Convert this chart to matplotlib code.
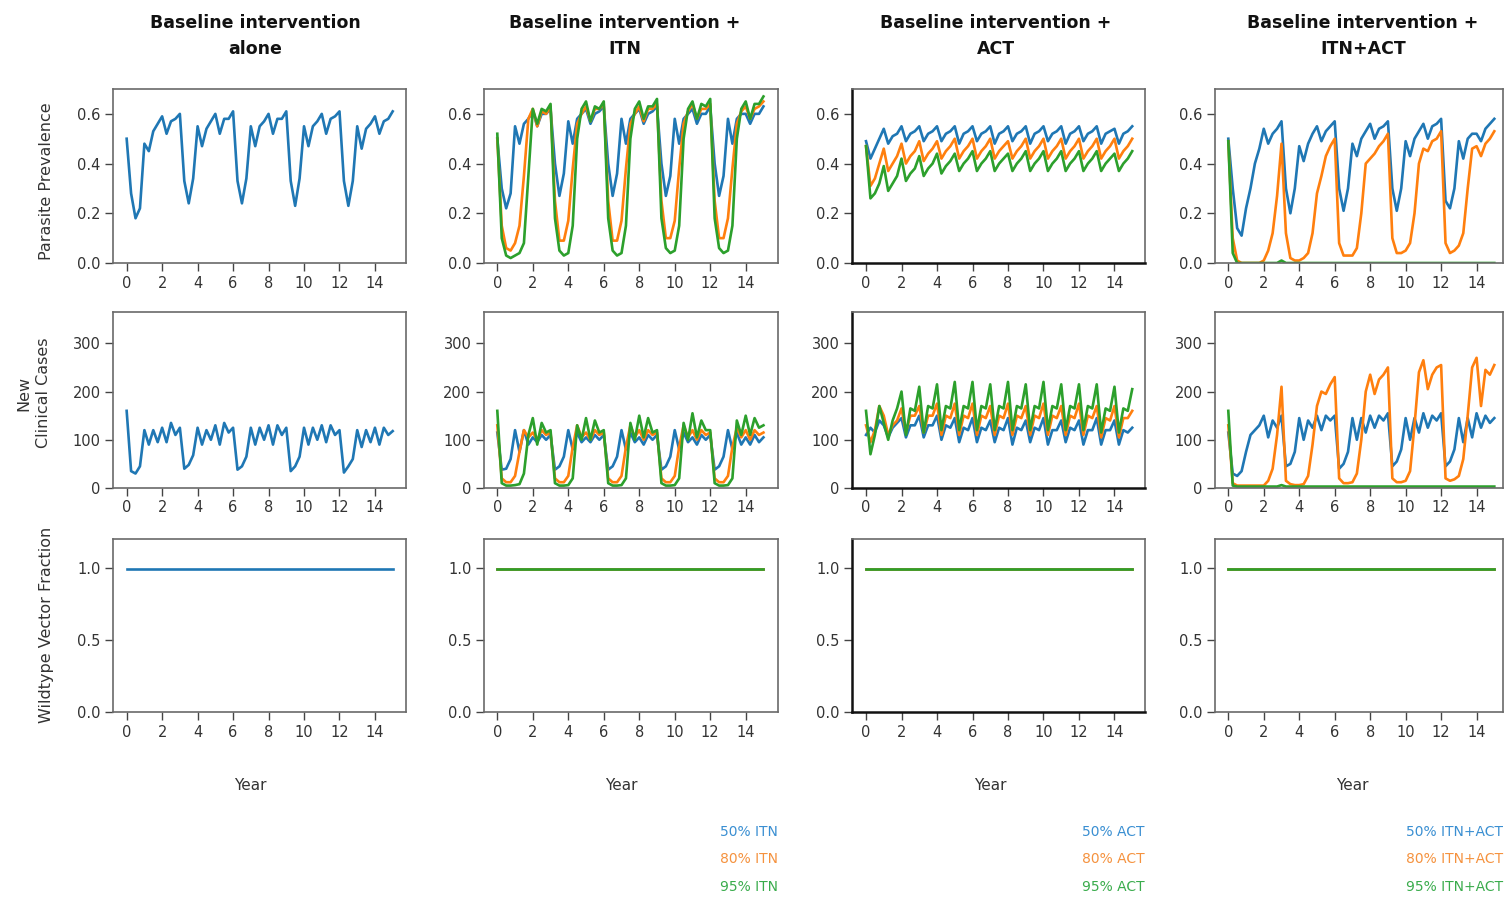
import numpy as np
import matplotlib
matplotlib.use("Agg")
import matplotlib.pyplot as plt

# ---------------- data (quarter-year steps) ----------------
years = np.arange(0, 15.01, 0.25)          # 61 time points, 0 .. 15 years
wild_years = [0, 15]

col_titles = ["Baseline intervention\nalone", "Baseline intervention +\nITN",
              "Baseline intervention +\nACT", "Baseline intervention +\nITN+ACT"]
row_labels = ["Parasite Prevalence", "New\nClinical Cases", "Wildtype Vector Fraction"]
itn_labels = ["50% ITN", "80% ITN", "95% ITN"]
act_labels = ["50% ACT", "80% ACT", "95% ACT"]
both_labels = ["50% ITN+ACT", "80% ITN+ACT", "95% ITN+ACT"]
x_ticks = [0, 2, 4, 6, 8, 10, 12, 14]

# --- column 1: baseline alone
prev_base = [0.50, 0.28, 0.18, 0.22, 0.48, 0.45, 0.53, 0.56, 0.59, 0.52, 0.57, 0.58,
             0.60, 0.33, 0.24, 0.34, 0.55, 0.47, 0.54, 0.57, 0.60, 0.52, 0.58, 0.58,
             0.61, 0.33, 0.24, 0.34, 0.55, 0.47, 0.55, 0.57, 0.60, 0.52, 0.58, 0.58,
             0.61, 0.33, 0.23, 0.34, 0.55, 0.47, 0.55, 0.57, 0.60, 0.52, 0.58, 0.59,
             0.61, 0.33, 0.23, 0.33, 0.55, 0.46, 0.54, 0.56, 0.59, 0.52, 0.57, 0.58,
             0.61]
cases_base = [160, 35, 30, 45, 120, 90, 120, 95, 125, 95, 135, 110,
              125, 40, 48, 68, 125, 90, 120, 100, 130, 90, 135, 115,
              125, 38, 45, 65, 125, 90, 125, 100, 130, 90, 130, 110,
              125, 35, 45, 65, 125, 90, 125, 100, 130, 95, 130, 110,
              120, 32, 45, 60, 120, 85, 120, 95, 125, 90, 125, 110,
              118]
wild_base = [0.99, 0.99]

# --- column 2: + ITN (50 %, 80 %, 95 %)
prev_itn50 = [0.50, 0.30, 0.22, 0.28, 0.55, 0.48, 0.56, 0.58, 0.61, 0.55, 0.60, 0.60,
              0.62, 0.40, 0.27, 0.36, 0.57, 0.48, 0.58, 0.60, 0.62, 0.56, 0.60, 0.61,
              0.63, 0.40, 0.27, 0.36, 0.58, 0.48, 0.58, 0.60, 0.62, 0.56, 0.60, 0.61,
              0.63, 0.40, 0.27, 0.35, 0.58, 0.48, 0.58, 0.60, 0.62, 0.56, 0.60, 0.60,
              0.63, 0.40, 0.27, 0.35, 0.58, 0.48, 0.58, 0.60, 0.60, 0.56, 0.60, 0.60,
              0.63]
prev_itn80 = [0.50, 0.15, 0.06, 0.05, 0.08, 0.15, 0.35, 0.58, 0.62, 0.55, 0.61, 0.60,
              0.63, 0.25, 0.09, 0.09, 0.17, 0.38, 0.56, 0.60, 0.63, 0.57, 0.62, 0.62,
              0.64, 0.25, 0.09, 0.09, 0.17, 0.38, 0.56, 0.60, 0.63, 0.57, 0.62, 0.62,
              0.64, 0.25, 0.10, 0.10, 0.17, 0.38, 0.56, 0.61, 0.64, 0.58, 0.62, 0.62,
              0.64, 0.25, 0.10, 0.10, 0.18, 0.38, 0.56, 0.61, 0.63, 0.58, 0.62, 0.63,
              0.65]
prev_itn95 = [0.52, 0.10, 0.03, 0.02, 0.03, 0.04, 0.08, 0.35, 0.62, 0.56, 0.62, 0.61,
              0.64, 0.18, 0.05, 0.03, 0.04, 0.15, 0.50, 0.62, 0.65, 0.57, 0.63, 0.62,
              0.65, 0.18, 0.05, 0.03, 0.04, 0.15, 0.50, 0.62, 0.65, 0.58, 0.63, 0.63,
              0.66, 0.18, 0.06, 0.04, 0.05, 0.15, 0.50, 0.62, 0.65, 0.58, 0.64, 0.63,
              0.66, 0.18, 0.06, 0.04, 0.05, 0.15, 0.50, 0.62, 0.65, 0.58, 0.64, 0.64,
              0.67]
cases_itn50 = [115, 38, 40, 60, 120, 75, 120, 90, 105, 95, 110, 100,
               110, 38, 45, 65, 120, 80, 115, 95, 105, 95, 110, 100,
               110, 38, 45, 65, 120, 80, 115, 95, 105, 90, 110, 100,
               110, 38, 45, 65, 120, 80, 115, 95, 105, 90, 110, 100,
               110, 38, 45, 65, 120, 80, 115, 90, 105, 90, 110, 95,
               105]
cases_itn80 = [130, 20, 12, 12, 25, 75, 120, 105, 115, 100, 120, 110,
               115, 20, 12, 12, 25, 85, 130, 105, 115, 100, 120, 110,
               115, 20, 12, 12, 25, 85, 130, 105, 120, 100, 120, 110,
               115, 20, 12, 12, 25, 85, 130, 105, 120, 100, 120, 110,
               115, 20, 12, 12, 25, 85, 125, 105, 120, 100, 120, 110,
               115]
cases_itn95 = [160, 10, 5, 5, 6, 8, 30, 110, 145, 90, 135, 115,
               120, 10, 5, 5, 6, 20, 130, 100, 145, 100, 140, 115,
               120, 10, 5, 5, 6, 20, 135, 100, 150, 105, 145, 115,
               120, 10, 5, 5, 6, 20, 135, 100, 155, 105, 140, 120,
               120, 10, 5, 5, 6, 20, 140, 110, 150, 110, 145, 125,
               130]
wild_itn50 = [0.99, 0.99]
wild_itn80 = [0.99, 0.99]
wild_itn95 = [0.99, 0.99]

# --- column 3: + ACT (annual saw-tooth)
prev_act50 = [0.49, 0.42, 0.46, 0.50, 0.54, 0.48, 0.51, 0.52, 0.55, 0.49, 0.52, 0.53,
              0.55, 0.49, 0.52, 0.53, 0.55, 0.49, 0.52, 0.53, 0.55, 0.48, 0.52, 0.53,
              0.55, 0.49, 0.52, 0.53, 0.55, 0.48, 0.52, 0.53, 0.55, 0.49, 0.52, 0.53,
              0.55, 0.48, 0.52, 0.53, 0.55, 0.49, 0.52, 0.53, 0.55, 0.48, 0.52, 0.53,
              0.55, 0.49, 0.52, 0.53, 0.55, 0.48, 0.52, 0.53, 0.54, 0.48, 0.52, 0.53,
              0.55]
prev_act80 = [0.47, 0.31, 0.34, 0.40, 0.46, 0.37, 0.40, 0.43, 0.48, 0.40, 0.43, 0.45,
              0.49, 0.41, 0.44, 0.46, 0.49, 0.42, 0.45, 0.47, 0.50, 0.42, 0.45, 0.47,
              0.50, 0.42, 0.45, 0.47, 0.50, 0.42, 0.45, 0.47, 0.49, 0.42, 0.45, 0.47,
              0.50, 0.42, 0.45, 0.47, 0.50, 0.42, 0.45, 0.47, 0.50, 0.42, 0.45, 0.47,
              0.50, 0.42, 0.45, 0.47, 0.50, 0.42, 0.45, 0.47, 0.50, 0.42, 0.45, 0.47,
              0.50]
prev_act95 = [0.47, 0.26, 0.28, 0.32, 0.39, 0.29, 0.32, 0.35, 0.42, 0.33, 0.36, 0.38,
              0.43, 0.35, 0.38, 0.40, 0.44, 0.36, 0.39, 0.41, 0.44, 0.37, 0.40, 0.42,
              0.45, 0.37, 0.40, 0.42, 0.45, 0.37, 0.40, 0.42, 0.44, 0.37, 0.40, 0.42,
              0.45, 0.37, 0.40, 0.42, 0.45, 0.37, 0.40, 0.42, 0.45, 0.37, 0.40, 0.42,
              0.45, 0.37, 0.40, 0.42, 0.45, 0.37, 0.40, 0.42, 0.44, 0.37, 0.40, 0.42,
              0.45]
cases_act50 = [110, 125, 115, 140, 130, 105, 125, 135, 145, 105, 130, 130,
               150, 105, 130, 130, 150, 100, 130, 125, 145, 95, 125, 120,
               145, 95, 125, 120, 140, 95, 125, 120, 145, 90, 125, 120,
               140, 95, 125, 120, 145, 90, 120, 120, 140, 95, 125, 120,
               140, 90, 120, 120, 145, 90, 120, 120, 140, 90, 120, 115,
               125]
cases_act80 = [130, 95, 120, 170, 150, 110, 130, 140, 165, 115, 150, 150,
               170, 115, 150, 150, 175, 110, 150, 145, 175, 110, 150, 145,
               175, 110, 150, 145, 170, 110, 150, 145, 175, 110, 150, 145,
               170, 110, 150, 145, 175, 110, 150, 145, 170, 110, 150, 145,
               175, 110, 150, 145, 170, 105, 145, 140, 170, 105, 145, 145,
               160]
cases_act95 = [160, 70, 110, 170, 135, 100, 140, 165, 200, 110, 165, 160,
               210, 115, 170, 165, 215, 120, 170, 165, 220, 120, 170, 165,
               220, 120, 170, 165, 215, 120, 170, 165, 220, 120, 170, 165,
               215, 120, 170, 165, 220, 120, 170, 165, 215, 120, 170, 165,
               215, 120, 170, 165, 215, 115, 165, 160, 210, 115, 165, 160,
               205]
wild_act50 = [0.99, 0.99]
wild_act80 = [0.99, 0.99]
wild_act95 = [0.99, 0.99]

# --- column 4: + ITN + ACT
prev_both50 = [0.50, 0.30, 0.14, 0.11, 0.22, 0.30, 0.40, 0.46, 0.54, 0.48, 0.52, 0.54,
               0.57, 0.30, 0.20, 0.30, 0.47, 0.41, 0.48, 0.52, 0.55, 0.49, 0.53, 0.55,
               0.57, 0.30, 0.21, 0.30, 0.48, 0.43, 0.50, 0.53, 0.56, 0.50, 0.54, 0.55,
               0.57, 0.30, 0.21, 0.30, 0.49, 0.43, 0.50, 0.53, 0.56, 0.50, 0.55, 0.56,
               0.58, 0.25, 0.22, 0.30, 0.49, 0.42, 0.50, 0.52, 0.52, 0.49, 0.54, 0.56,
               0.58]
prev_both80 = [0.49, 0.10, 0.01, 0.00, 0.00, 0.00, 0.00, 0.00, 0.01, 0.05, 0.12, 0.27,
               0.48, 0.12, 0.02, 0.01, 0.01, 0.02, 0.04, 0.12, 0.28, 0.35, 0.43, 0.47,
               0.50, 0.08, 0.03, 0.03, 0.03, 0.06, 0.20, 0.40, 0.42, 0.44, 0.47, 0.49,
               0.52, 0.10, 0.04, 0.04, 0.05, 0.08, 0.20, 0.40, 0.46, 0.45, 0.49, 0.50,
               0.53, 0.08, 0.04, 0.05, 0.07, 0.12, 0.30, 0.46, 0.47, 0.43, 0.48, 0.50,
               0.53]
prev_both95 = [0.49, 0.04, 0.00, 0.00, 0.00, 0.00, 0.00, 0.00, 0.00, 0.00, 0.00, 0.00,
               0.01, 0.00, 0.00, 0.00, 0.00, 0.00, 0.00, 0.00, 0.00, 0.00, 0.00, 0.00,
               0.00, 0.00, 0.00, 0.00, 0.00, 0.00, 0.00, 0.00, 0.00, 0.00, 0.00, 0.00,
               0.00, 0.00, 0.00, 0.00, 0.00, 0.00, 0.00, 0.00, 0.00, 0.00, 0.00, 0.00,
               0.00, 0.00, 0.00, 0.00, 0.00, 0.00, 0.00, 0.00, 0.00, 0.00, 0.00, 0.00,
               0.00]
cases_both50 = [115, 30, 25, 35, 75, 110, 120, 130, 150, 105, 140, 125,
                150, 45, 50, 75, 145, 100, 140, 125, 150, 120, 150, 140,
                150, 40, 50, 75, 145, 100, 145, 115, 150, 125, 150, 140,
                155, 45, 55, 80, 145, 100, 145, 115, 155, 125, 150, 140,
                155, 45, 55, 80, 145, 95, 145, 105, 155, 125, 150, 135,
                145]
cases_both80 = [130, 10, 5, 5, 5, 5, 5, 5, 5, 15, 40, 110,
                210, 15, 8, 6, 6, 8, 25, 90, 170, 200, 195, 215,
                230, 20, 10, 10, 12, 30, 100, 200, 235, 195, 225, 235,
                250, 20, 12, 12, 15, 35, 130, 240, 265, 205, 235, 250,
                255, 20, 15, 18, 25, 60, 150, 250, 270, 170, 245, 235,
                255]
cases_both95 = [160, 5, 3, 3, 3, 3, 3, 3, 3, 3, 3, 3,
                6, 3, 3, 3, 3, 3, 3, 3, 3, 3, 3, 3,
                3, 3, 3, 3, 3, 3, 3, 3, 3, 3, 3, 3,
                3, 3, 3, 3, 3, 3, 3, 3, 3, 3, 3, 3,
                3, 3, 3, 3, 3, 3, 3, 3, 3, 3, 3, 3,
                3]
wild_both50 = [0.99, 0.99]
wild_both80 = [0.99, 0.99]
wild_both95 = [0.99, 0.99]

# ---------------- styling ----------------
BLUE, ORANGE, GREEN = "#1f77b4", "#ff7f0e", "#2ca02c"
LEG_COLORS = ["#3a8fd2", "#f5923e", "#3aac4c"]
W, H = 1507, 897

plt.rcParams["font.family"] = ["DejaVu Sans"]
fig = plt.figure(figsize=(W / 100, H / 100), dpi=100)
fig.patch.set_facecolor("white")

col_bounds = [(113, 406), (484, 778), (852, 1145), (1215, 1503)]
col_xlims = [(-0.77, 15.75), (-0.75, 15.82), (-0.79, 15.72), (-0.75, 15.49)]
row_bounds = [(89, 263), (312, 488), (539, 712)]
row_ylims = [(0, 0.70), (0, 365), (0, 1.2)]
row_yticks = [[0, 0.2, 0.4, 0.6], [0, 100, 200, 300], [0, 0.5, 1.0]]
row_fmt = ["{:.1f}", "{:.0f}", "{:.1f}"]

panels = [
    [[(prev_base, BLUE)], [(cases_base, BLUE)], [(wild_base, BLUE)]],
    [[(prev_itn50, BLUE), (prev_itn80, ORANGE), (prev_itn95, GREEN)],
     [(cases_itn50, BLUE), (cases_itn80, ORANGE), (cases_itn95, GREEN)],
     [(wild_itn50, BLUE), (wild_itn80, ORANGE), (wild_itn95, GREEN)]],
    [[(prev_act50, BLUE), (prev_act80, ORANGE), (prev_act95, GREEN)],
     [(cases_act50, BLUE), (cases_act80, ORANGE), (cases_act95, GREEN)],
     [(wild_act50, BLUE), (wild_act80, ORANGE), (wild_act95, GREEN)]],
    [[(prev_both50, BLUE), (prev_both80, ORANGE), (prev_both95, GREEN)],
     [(cases_both50, BLUE), (cases_both80, ORANGE), (cases_both95, GREEN)],
     [(wild_both50, BLUE), (wild_both80, ORANGE), (wild_both95, GREEN)]],
]
legend_sets = [None, itn_labels, act_labels, both_labels]

for c, (x0, x1) in enumerate(col_bounds):
    for r, (y0, y1) in enumerate(row_bounds):
        ax = fig.add_axes([x0 / W, 1 - y1 / H, (x1 - x0) / W, (y1 - y0) / H])
        for vals, color in panels[c][r]:
            xs = wild_years if r == 2 else years
            ax.plot(xs, vals, color=color, lw=1.9, solid_joinstyle="round")
        ax.set_xlim(*col_xlims[c])
        ax.set_ylim(*row_ylims[r])
        ax.set_xticks(x_ticks)
        ax.set_xticklabels([str(t) for t in x_ticks])
        ax.set_yticks(row_yticks[r])
        ax.set_yticklabels([row_fmt[r].format(v) for v in row_yticks[r]])
        ax.tick_params(axis="both", direction="out", length=6, width=1.0,
                       color="#444444", labelcolor="#333333", labelsize=10.5, pad=3)
        for side in ["top", "right", "left", "bottom"]:
            ax.spines[side].set_color("#6a6a6a")
            ax.spines[side].set_linewidth(1.2)
        if c == 2:
            ax.spines["left"].set_color("#111111")
            ax.spines["left"].set_linewidth(1.8)
            ax.spines["bottom"].set_color("#111111")
            ax.spines["bottom"].set_linewidth(1.8)
        if r == 2:
            xc = (7 - col_xlims[c][0]) / (col_xlims[c][1] - col_xlims[c][0])
            ax.text(xc, (y1 - 785) / (y1 - y0), "Year", transform=ax.transAxes,
                    ha="center", va="center", fontsize=11, color="#333333")
            if legend_sets[c] is not None:
                for k, (lab, ypx) in enumerate(zip(legend_sets[c], [832, 859, 887])):
                    ax.text(1.0, (y1 - ypx) / (y1 - y0), lab, transform=ax.transAxes,
                            ha="right", va="center", fontsize=10, color=LEG_COLORS[k])

# column titles
for c, (x0, x1) in enumerate(col_bounds):
    xc = [255, 625, 996, 1363][c]
    fig.text(xc / W, 1 - 36 / H, col_titles[c], ha="center", va="center",
             fontsize=12.5, fontweight="bold", linespacing=1.55, color="#111111")

# row labels
fig.text(47 / W, 1 - 181 / H, row_labels[0], rotation=90, ha="center", va="center",
         fontsize=11.5, color="#333333")
fig.text(34 / W, 1 - 393 / H, row_labels[1], rotation=90, ha="center", va="center",
         fontsize=11.5, color="#333333", linespacing=1.4)
fig.text(47 / W, 1 - 625 / H, row_labels[2], rotation=90, ha="center", va="center",
         fontsize=11.5, color="#333333")

fig.savefig("out.png", dpi=100, facecolor="white")
